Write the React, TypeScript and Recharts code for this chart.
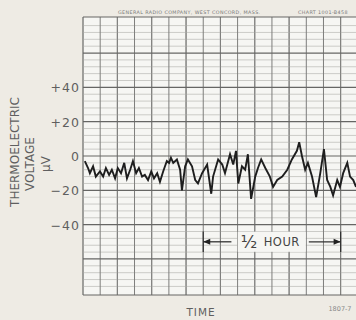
import React from "react";
import { CartesianGrid, Line, LineChart, ReferenceDot, ReferenceLine, XAxis, YAxis } from "recharts";

// recorder trace, time in minutes (16 chart divisions of 3.75 min), value in microvolts
const minutes = [
  0.4, 1.1, 1.5, 2.2, 2.8, 3.7, 4.4, 5.0, 5.7, 6.3, 7.0, 7.6, 8.3, 9.0, 9.6, 10.3,
  10.9, 11.6, 12.2, 12.9, 13.5, 14.2, 14.9, 15.5, 16.2, 16.8, 17.5, 17.9, 18.3, 18.8,
  19.2, 19.7, 20.5, 21.2, 21.6, 22.3, 22.9, 23.8, 24.5, 25.1, 26.0, 27.1, 28.0, 28.4,
  29.5, 30.4, 31.0, 32.1, 32.8, 33.4, 33.9, 34.7, 35.4, 36.0, 36.7, 37.6, 38.2, 38.9,
  39.8, 40.8, 41.5, 42.4, 43.5, 44.6, 45.6, 46.7, 47.2, 47.8, 48.5, 49.1, 50.0, 50.9,
  51.8, 52.6, 53.3, 54.0, 54.6, 55.5, 56.1, 56.8, 57.7, 58.3, 59.0, 59.6,
];
const microvolts = [
  -3, -7, -10, -6, -12, -9, -12, -7, -11, -8, -13, -7, -10, -4, -13, -8,
  -3, -10, -7, -12, -11, -14, -9, -13, -10, -15, -9, -6, -3, -4,
  -1, -4, -2, -8, -20, -6, -2, -6, -14, -16, -10, -5, -22, -12,
  -2, -5, -10, 1, -5, 3, -16, -6, -8, 1, -25, -12, -7, -2,
  -7, -12, -18, -14, -12, -8, -2, 3, 8, 0, -8, -4, -12, -24,
  -10, 4, -14, -18, -23, -14, -18, -10, -4, -12, -14, -18,
];

const voltTicks = [40, 20, 0, -20, -40];
const voltLabels = ["+40", "+20", "0", "\u221220", "\u221240"];
const majorLevels = [81, 60, 40, 20, 0, -20, -40, -60, -81];
const minorLevels = [
  76, 72, 68, 64, 56, 52, 48, 44, 36, 32, 28, 24, 16, 12, 8, 4,
  -4, -8, -12, -16, -24, -28, -32, -36, -44, -48, -52, -56, -64, -68, -72, -76,
];
const divisions = [0, 3.75, 7.5, 11.25, 15, 18.75, 22.5, 26.25, 30, 33.75, 37.5, 41.25, 45, 48.75, 52.5, 56.25];

// half-hour bracket: from division 7 to division 15
const halfHourStart = 26.25;
const halfHourEnd = 56.25;
const halfHourArrowIn = [32.4, 49.3];
const halfHourLevel = -50;
const halfHourTick = [-44, -56];

const data = minutes.map((t, i) => ({ t, v: microvolts[i] }));

const ink = "#5f5f5f";
const font = "'DejaVu Sans', sans-serif";

const VoltTick = (props: any) => {
  const { x, y, payload } = props;
  const idx = voltTicks.indexOf(payload.value);
  return (
    <text x={x} y={y} dy={5} textAnchor="end" fill={ink} fontSize={12.5} fontFamily={font} letterSpacing={1}>
      {voltLabels[idx]}
    </text>
  );
};

const Arrow = (dir: number) => (props: any) => {
  const { x1, y1, x2, y2 } = props;
  const tipX = dir < 0 ? Math.min(x1, x2) : Math.max(x1, x2);
  return (
    <g>
      <line x1={x1} y1={y1} x2={x2} y2={y2} stroke="#333" strokeWidth={1.3} />
      <polygon points={`${tipX},${y1} ${tipX - dir * 7},${y1 - 3} ${tipX - dir * 7},${y1 + 3}`} fill="#222" />
    </g>
  );
};

const HalfHourLabel = (props: any) => {
  const { cx, cy } = props;
  return (
    <g>
      <rect x={cx - 34} y={cy - 10} width={68} height={20} fill="#f6f6f3" />
      <text x={cx - 31} y={cy + 6} fill="#444" fontFamily={font} fontSize={17}>
        {"\u00bd"}
      </text>
      <text x={cx - 8} y={cy + 4} fill="#444" fontFamily={font} fontSize={11.5} letterSpacing={0.5}>
        HOUR
      </text>
    </g>
  );
};

export default function App() {
  return (
    <div style={{ position: "absolute", left: 0, top: 0, width: 356, height: 320, background: "#eeebe4", overflow: "hidden" }}>
      <LineChart width={356} height={320} data={data} margin={{ top: 17, right: 0, bottom: 25, left: 0 }}>
        <CartesianGrid fill="#f6f6f3" stroke="#8a8a88" horizontal={false} verticalValues={divisions} />
        <XAxis type="number" dataKey="t" domain={[0, 59.6]} hide />
        <YAxis
          type="number"
          domain={[-81, 81]}
          ticks={voltTicks}
          width={83}
          axisLine={false}
          tickLine={false}
          tickSize={0}
          tickMargin={3}
          tick={<VoltTick />}
        />
        {minorLevels.map((lv) => (
          <ReferenceLine key={lv} y={lv} stroke="#cbcbc7" strokeWidth={1} />
        ))}
        {divisions.map((d) => (
          <ReferenceLine key={"d" + d} x={d} stroke="#7e7e7c" strokeWidth={1} />
        ))}
        {majorLevels.map((lv) => (
          <ReferenceLine key={"m" + lv} y={lv} stroke="#666664" strokeWidth={1.2} />
        ))}
        <ReferenceLine
          segment={[{ x: halfHourStart, y: halfHourTick[0] }, { x: halfHourStart, y: halfHourTick[1] }]}
          stroke="#333"
          strokeWidth={1.3}
        />
        <ReferenceLine
          segment={[{ x: halfHourEnd, y: halfHourTick[0] }, { x: halfHourEnd, y: halfHourTick[1] }]}
          stroke="#333"
          strokeWidth={1.3}
        />
        <ReferenceLine
          segment={[{ x: halfHourStart, y: halfHourLevel }, { x: halfHourArrowIn[0], y: halfHourLevel }]}
          shape={Arrow(-1)}
        />
        <ReferenceLine
          segment={[{ x: halfHourArrowIn[1], y: halfHourLevel }, { x: halfHourEnd, y: halfHourLevel }]}
          shape={Arrow(1)}
        />
        <ReferenceDot x={41.2} y={halfHourLevel} r={0} shape={<HalfHourLabel />} />
        <Line
          type="linear"
          dataKey="v"
          stroke="#1e1e1e"
          strokeWidth={1.9}
          dot={false}
          isAnimationActive={false}
        />
      </LineChart>
      <svg width={356} height={320} style={{ position: "absolute", left: 0, top: 0, pointerEvents: "none" }}>
        <text x={118} y={14} fill="#777" fontFamily={font} fontSize={4.8} letterSpacing={0.4}>
          GENERAL RADIO COMPANY, WEST CONCORD, MASS.
        </text>
        <text x={298} y={14} fill="#777" fontFamily={font} fontSize={4.8} letterSpacing={0.4}>
          CHART 1001-B458
        </text>
        <g fill={ink} fontFamily={font} fontSize={12} textAnchor="middle">
          <text transform="translate(19 152) rotate(-90)">THERMOELECTRIC</text>
          <text transform="translate(34 164) rotate(-90)">VOLTAGE</text>
          <text transform="translate(50 164) rotate(-90)">μV</text>
        </g>
        <text x={201} y={316} fill={ink} fontFamily={font} fontSize={10.5} textAnchor="middle" letterSpacing={1}>
          TIME
        </text>
        <text x={340} y={311} fill="#888" fontFamily={font} fontSize={6.5} textAnchor="middle">
          1807-7
        </text>
      </svg>
    </div>
  );
}
